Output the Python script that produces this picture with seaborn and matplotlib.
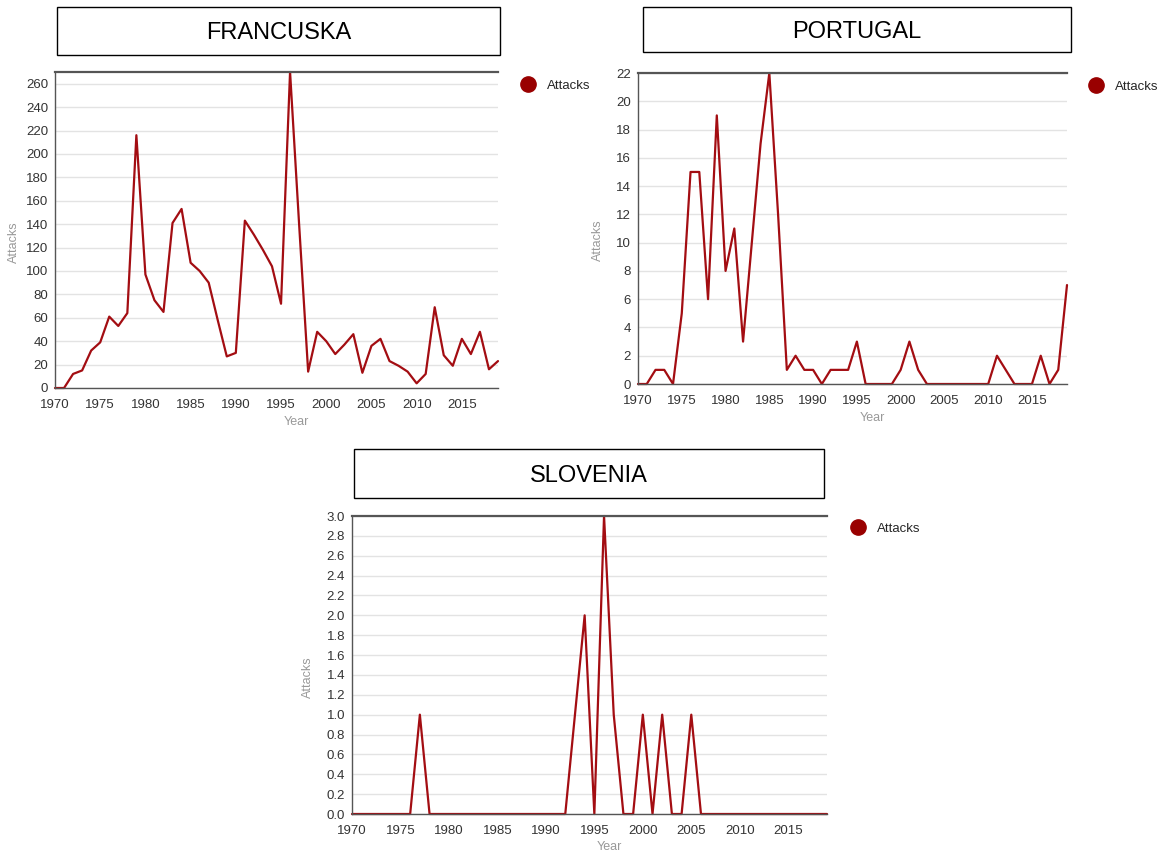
import matplotlib
matplotlib.use("Agg")
import matplotlib.pyplot as plt
import seaborn as sns
import pandas as pd
from matplotlib.patches import Rectangle
from matplotlib.lines import Line2D
from matplotlib.ticker import FormatStrFormatter

sns.set_theme(style="white")
plt.rcParams['font.family'] = ['Liberation Sans', 'DejaVu Sans']

years = list(range(1970, 2020))
france_attacks = [0, 0, 12, 15, 32, 39, 61, 53, 64, 216,
                  97, 75, 65, 141, 153, 107, 100, 90, 58, 27,
                  30, 143, 131, 118, 104, 72, 270, 140, 14, 48,
                  40, 29, 37, 46, 13, 36, 42, 23, 19, 14,
                  4, 12, 69, 28, 19, 42, 29, 48, 16, 23]
portugal_attacks = [0, 0, 1, 1, 0, 5, 15, 15, 6, 19,
                    8, 11, 3, 10, 17, 22, 12, 1, 2, 1,
                    1, 0, 1, 1, 1, 3, 0, 0, 0, 0,
                    1, 3, 1, 0, 0, 0, 0, 0, 0, 0,
                    0, 2, 1, 0, 0, 0, 2, 0, 1, 7]
slovenia_attacks = [0, 0, 0, 0, 0, 0, 0, 1, 0, 0,
                    0, 0, 0, 0, 0, 0, 0, 0, 0, 0,
                    0, 0, 0, 1, 2, 0, 3, 1, 0, 0,
                    1, 0, 1, 0, 0, 1, 0, 0, 0, 0,
                    0, 0, 0, 0, 0, 0, 0, 0, 0, 0]

titles = ["FRANCUSKA", "PORTUGAL", "SLOVENIA"]
series_name = "Attacks"
x_ticks = [1970, 1975, 1980, 1985, 1990, 1995, 2000, 2005, 2010, 2015]

W, H = 1160, 855
LINE_COLOR = "#a30d12"
MARK_COLOR = "#990000"

fig = plt.figure(figsize=(W / 100, H / 100), dpi=100)
fig.patch.set_facecolor("white")


def px_axes(x0, y0, x1, y1):
    return fig.add_axes([x0 / W, 1 - y1 / H, (x1 - x0) / W, (y1 - y0) / H])


def title_box(x0, y0, x1, y1, text):
    rect = Rectangle((x0 / W, 1 - y1 / H), (x1 - x0) / W, (y1 - y0) / H,
                     transform=fig.transFigure, facecolor="white",
                     edgecolor="black", linewidth=1.0)
    fig.patches.append(rect)
    fig.text((x0 + x1) / 2 / W, 1 - ((y0 + y1) / 2 + 2) / H, text,
             ha="center", va="center", fontsize=17, color="black")


def panel(box, values, yticks, ylim, fmt, legend_xy, ylabel_x, xlabel_y):
    ax = px_axes(*box)
    df = pd.DataFrame({"Year": years, "Attacks": values})
    sns.lineplot(data=df, x="Year", y="Attacks", ax=ax, color=LINE_COLOR,
                 linewidth=1.6, clip_on=False)
    ax.set_xlim(1970, 2019)
    ax.set_ylim(*ylim)
    ax.set_xticks(x_ticks)
    ax.set_yticks(yticks)
    if fmt:
        ax.yaxis.set_major_formatter(FormatStrFormatter(fmt))
    ax.grid(axis="y", color="#e3e3e3", linewidth=1.0)
    ax.set_axisbelow(True)
    for s in ["left", "bottom", "top"]:
        ax.spines[s].set_color("#555555")
        ax.spines[s].set_linewidth(1.0)
    ax.spines["top"].set_linewidth(1.6)
    ax.spines["right"].set_visible(False)
    ax.tick_params(axis="both", labelsize=9.5, colors="#333333", length=4,
                   width=0.8, pad=2, direction="out")
    ax.tick_params(axis="x", pad=4)
    ax.tick_params(axis="y", length=3)
    ax.set_xlabel("")
    ax.set_ylabel("")
    x0, y0, x1, y1 = box
    fig.text(ylabel_x / W, 1 - ((y0 + y1) / 2 + 12) / H, "Attacks", rotation=90,
             ha="center", va="center", fontsize=9, color="#999999")
    fig.text(((x0 + x1) / 2 + 20) / W, 1 - xlabel_y / H, "Year",
             ha="center", va="center", fontsize=9, color="#999999")
    handle = Line2D([], [], marker="o", linestyle="none", markersize=11,
                    markerfacecolor=MARK_COLOR, markeredgecolor=MARK_COLOR)
    lx, ly = legend_xy
    fig.legend([handle], [series_name], loc="center left",
               bbox_to_anchor=(lx / W, 1 - ly / H), frameon=False,
               fontsize=9.5, handletextpad=0.95, borderaxespad=0,
               borderpad=0, handlelength=1.0)
    return ax


panel((55, 72, 498, 388), france_attacks, list(range(0, 261, 20)), (0, 270),
      None, (521, 86), 14, 422)
panel((638, 73, 1067, 384), portugal_attacks, list(range(0, 23, 2)), (0, 22),
      None, (1089, 87), 598, 418)
panel((352, 516, 827, 814), slovenia_attacks,
      [i / 5 for i in range(0, 16)], (0, 3.0), "%.1f", (851, 529), 308, 847)

title_box(57, 7, 500, 55, titles[0])
title_box(643, 7, 1071, 52, titles[1])
title_box(354, 449, 824, 498, titles[2])

fig.savefig("out.png", dpi=100, facecolor="white")
